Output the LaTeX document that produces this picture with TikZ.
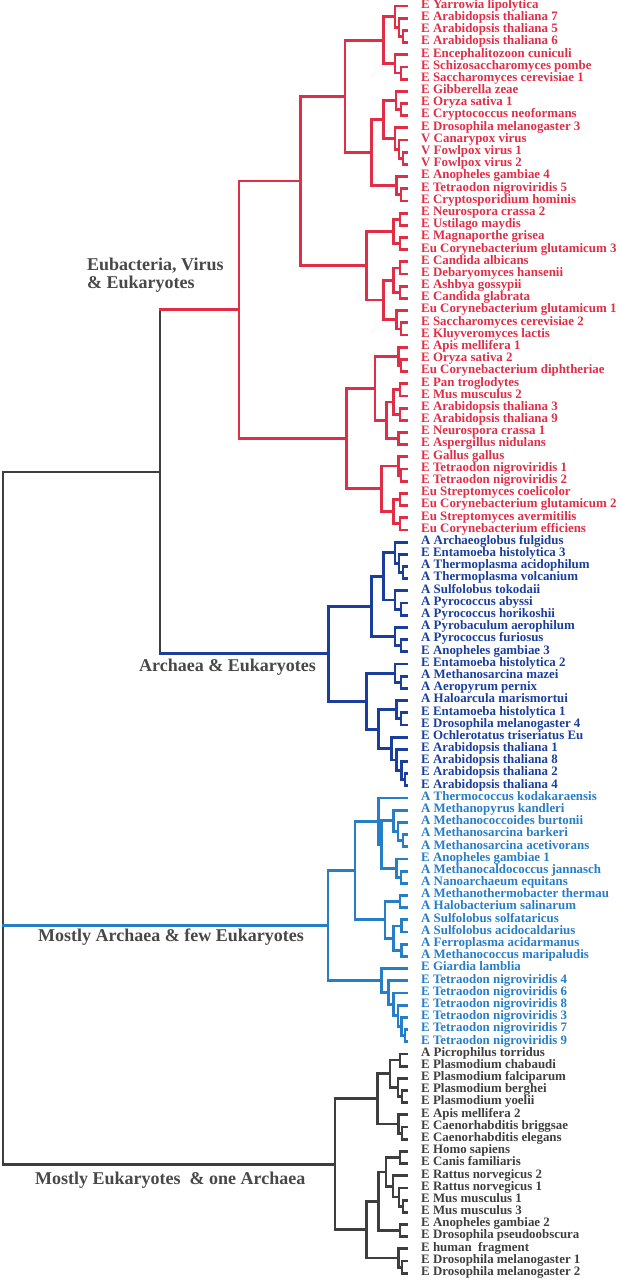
\documentclass[tikz,border=0pt]{standalone}
\usepackage{fontspec}
\setmainfont{Liberation Serif}
\usepackage{tikz}
\usetikzlibrary{calc}
\definecolor{treered}{RGB}{226, 45, 70}
\definecolor{treeblue}{RGB}{25, 62, 158}
\definecolor{treesky}{RGB}{38, 125, 200}
\definecolor{treegrey}{RGB}{62, 62, 62}
\definecolor{labelgrey}{RGB}{72, 72, 72}

% clade{name}{x}{upper child}{lower child}
\newcommand{\clade}[4]{%
  \path (#3) -- (#4) coordinate[midway] (m#1);
  \coordinate (#1) at (#2,0 |- m#1);
  \draw[branch] (#1) |- (#3);
  \draw[branch] (#1) |- (#4);
}

\begin{document}
\begin{tikzpicture}[
    x=1pt, y=-1pt,
    branch/.style={line width=2.8pt, line cap=rect},
    leaf/.style={anchor=mid west, inner sep=0pt, xshift=14pt,
        font=\fontsize{12.9}{13}\selectfont\bfseries},
    group/.style={anchor=west, inner sep=0pt, align=left, text=labelgrey,
        font=\fontsize{18}{18}\selectfont\bfseries}
]
    \useasboundingbox (0,0) rectangle (620,1280);

    % Eubacteria, Virus & Eukaryotes
    \begin{scope}[color=treered]
        \foreach \i/\name in {
            1/E Yarrowia lipolytica, 2/E Arabidopsis thaliana 7,
            3/E Arabidopsis thaliana 5, 4/E Arabidopsis thaliana 6,
            5/E Encephalitozoon cuniculi, 6/E Schizosaccharomyces pombe,
            7/E Saccharomyces cerevisiae 1, 8/E Gibberella zeae,
            9/E Oryza sativa 1, 10/E Cryptococcus neoformans,
            11/E Drosophila melanogaster 3, 12/V Canarypox virus,
            13/V Fowlpox virus 1, 14/V Fowlpox virus 2,
            15/E Anopheles gambiae 4, 16/E Tetraodon nigroviridis 5,
            17/E Cryptosporidium hominis, 18/E Neurospora crassa 2,
            19/E Ustilago maydis, 20/E Magnaporthe grisea,
            21/Eu Corynebacterium glutamicum 3, 22/E Candida albicans,
            23/E Debaryomyces hansenii, 24/E Ashbya gossypii,
            25/E Candida glabrata, 26/Eu Corynebacterium glutamicum 1,
            27/E Saccharomyces cerevisiae 2, 28/E Kluyveromyces lactis,
            29/E Apis mellifera 1, 30/E Oryza sativa 2,
            31/Eu Corynebacterium diphtheriae, 32/E Pan troglodytes,
            33/E Mus musculus 2, 34/E Arabidopsis thaliana 3,
            35/E Arabidopsis thaliana 9, 36/E Neurospora crassa 1,
            37/E Aspergillus nidulans, 38/E Gallus gallus,
            39/E Tetraodon nigroviridis 1, 40/E Tetraodon nigroviridis 2,
            41/Eu Streptomyces coelicolor, 42/Eu Corynebacterium glutamicum 2,
            43/Eu Streptomyces avermitilis, 44/Eu Corynebacterium efficiens}
        {
            \coordinate (t\i) at (407,{6+(\i-1)*12.185});
            \node[leaf] (l\i) at (t\i) {\name};
        }
        \clade{r34}{403}{t3}{t4}
        \clade{r24}{399}{t2}{r34}
        \clade{r14}{395}{t1}{r24}
        \clade{r67}{401}{t6}{t7}
        \clade{r57}{395}{t5}{r67}
        \clade{r17}{383.3}{r14}{r57}
        \clade{r910}{401}{t9}{t10}
        \clade{r810}{396}{t8}{r910}
        \clade{r1314}{403}{t13}{t14}
        \clade{r1214}{399}{t12}{r1314}
        \clade{r1114}{395}{t11}{r1214}
        \clade{r814}{383.3}{r810}{r1114}
        \clade{r1617}{401}{t16}{t17}
        \clade{r1517}{396.7}{t15}{r1617}
        \clade{r817}{371.7}{r814}{r1517}
        \clade{r117}{345}{r17}{r817}
        \clade{r1819}{400}{t18}{t19}
        \clade{r2021}{400}{t20}{t21}
        \clade{r1821}{393.3}{r1819}{r2021}
        \clade{r2223}{400}{t22}{t23}
        \clade{r2425}{400}{t24}{t25}
        \clade{r2225}{393.3}{r2223}{r2425}
        \clade{r2728}{401}{t27}{t28}
        \clade{r2628}{396.7}{t26}{r2728}
        \clade{r2228}{383.3}{r2225}{r2628}
        \clade{r1828}{366.7}{r1821}{r2228}
        \clade{r128}{300.7}{r117}{r1828}
        \clade{r3031}{401}{t30}{t31}
        \clade{r2931}{398.3}{t29}{r3031}
        \clade{r3233}{400}{t32}{t33}
        \clade{r3435}{400}{t34}{t35}
        \clade{r3235}{393.3}{r3233}{r3435}
        \clade{r3637}{398.3}{t36}{t37}
        \clade{r3237}{386.7}{r3235}{r3637}
        \clade{r2937}{375}{r2931}{r3237}
        \clade{r3940}{401}{t39}{t40}
        \clade{r3840}{398.3}{t38}{r3940}
        \clade{r4142}{400}{t41}{t42}
        \clade{r4344}{400}{t43}{t44}
        \clade{r4144}{393.3}{r4142}{r4344}
        \clade{r3844}{381.7}{r3840}{r4144}
        \clade{r2944}{346.7}{r2937}{r3844}
        \clade{eubac}{239}{r128}{r2944}
    \end{scope}

    % Archaea & Eukaryotes
    \begin{scope}[color=treeblue]
        \foreach \i/\name in {
            45/A Archaeoglobus fulgidus, 46/E Entamoeba histolytica 3,
            47/A Thermoplasma acidophilum, 48/A Thermoplasma volcanium,
            49/A Sulfolobus tokodaii, 50/A Pyrococcus abyssi,
            51/A Pyrococcus horikoshii, 52/A Pyrobaculum aerophilum,
            53/A Pyrococcus furiosus, 54/E Anopheles gambiae 3,
            55/E Entamoeba histolytica 2, 56/A Methanosarcina mazei,
            57/A Aeropyrum pernix, 58/A Haloarcula marismortui,
            59/E Entamoeba histolytica 1, 60/E Drosophila melanogaster 4,
            61/E Ochlerotatus triseriatus Eu, 62/E Arabidopsis thaliana 1,
            63/E Arabidopsis thaliana 8, 64/E Arabidopsis thaliana 2,
            65/E Arabidopsis thaliana 4}
        {
            \coordinate (t\i) at (407,{6+(\i-1)*12.185});
            \node[leaf] (l\i) at (t\i) {\name};
        }
        \clade{b4748}{403}{t47}{t48}
        \clade{b4648}{399}{t46}{b4748}
        \clade{b4548}{395}{t45}{b4648}
        \clade{b5051}{401}{t50}{t51}
        \clade{b4951}{395}{t49}{b5051}
        \clade{b4551}{383.3}{b4548}{b4951}
        \clade{b5354}{401}{t53}{t54}
        \clade{b5254}{395}{t52}{b5354}
        \clade{b4554}{371.7}{b4551}{b5254}
        \clade{b5657}{401}{t56}{t57}
        \clade{b5557}{395}{t55}{b5657}
        \clade{b5960}{401}{t59}{t60}
        \clade{b5860}{396.7}{t58}{b5960}
        \clade{b6465}{405}{t64}{t65}
        \clade{b6365}{401.7}{t63}{b6465}
        \clade{b6265}{396.7}{t62}{b6365}
        \clade{b6165}{391.7}{t61}{b6265}
        \clade{b5865}{378.3}{b5860}{b6165}
        \clade{b5565}{366.7}{b5557}{b5865}
        \clade{archeuk}{328.3}{b4554}{b5565}
    \end{scope}

    % Mostly Archaea & few Eukaryotes
    \begin{scope}[color=treesky]
        \foreach \i/\name in {
            66/A Thermococcus kodakaraensis, 67/A Methanopyrus kandleri,
            68/A Methanococcoides burtonii, 69/A Methanosarcina barkeri,
            70/A Methanosarcina acetivorans, 71/E Anopheles gambiae 1,
            72/A Methanocaldococcus jannasch, 73/A Nanoarchaeum equitans,
            74/A Methanothermobacter thermau, 75/A Halobacterium salinarum,
            76/A Sulfolobus solfataricus, 77/A Sulfolobus acidocaldarius,
            78/A Ferroplasma acidarmanus, 79/A Methanococcus maripaludis,
            80/E Giardia lamblia, 81/E Tetraodon nigroviridis 4,
            82/E Tetraodon nigroviridis 6, 83/E Tetraodon nigroviridis 8,
            84/E Tetraodon nigroviridis 3, 85/E Tetraodon nigroviridis 7,
            86/E Tetraodon nigroviridis 9}
        {
            \coordinate (t\i) at (407,{6+(\i-1)*12.185});
            \node[leaf] (l\i) at (t\i) {\name};
        }
        \clade{c6970}{403}{t69}{t70}
        \clade{c6870}{398}{t68}{c6970}
        \clade{c6770}{393.3}{t67}{c6870}
        \clade{c7273}{401}{t72}{t73}
        \clade{c7173}{396.7}{t71}{c7273}
        \clade{c6773}{381.7}{c6770}{c7173}
        \clade{c6673}{378.3}{t66}{c6773}
        \clade{c7475}{400}{t74}{t75}
        \clade{c7677}{401.7}{t76}{t77}
        \clade{c7879}{401.7}{t78}{t79}
        \clade{c7679}{393.3}{c7677}{c7879}
        \clade{c7479}{385}{c7475}{c7679}
        \clade{c6679}{355}{c6673}{c7479}
        \clade{c8586}{405}{t85}{t86}
        \clade{c8486}{401.7}{t84}{c8586}
        \clade{c8386}{398}{t83}{c8486}
        \clade{c8286}{393.3}{t82}{c8386}
        \clade{c8186}{388.3}{t81}{c8286}
        \clade{c8086}{381.7}{t80}{c8186}
        \clade{mostarch}{328}{c6679}{c8086}
    \end{scope}

    % Mostly Eukaryotes & one Archaea
    \begin{scope}[color=treegrey]
        \foreach \i/\name in {
            87/A Picrophilus torridus, 88/E Plasmodium chabaudi,
            89/E Plasmodium falciparum, 90/E Plasmodium berghei,
            91/E Plasmodium yoelii, 92/E Apis mellifera 2,
            93/E Caenorhabditis briggsae, 94/E Caenorhabditis elegans,
            95/E Homo sapiens, 96/E Canis familiaris,
            97/E Rattus norvegicus 2, 98/E Rattus norvegicus 1,
            99/E Mus musculus 1, 100/E Mus musculus 3,
            101/E Anopheles gambiae 2, 102/E Drosophila pseudoobscura,
            103/E human\ \ fragment, 104/E Drosophila melanogaster 1,
            105/E Drosophila melanogaster 2}
        {
            \coordinate (t\i) at (407,{6+(\i-1)*12.185});
            \node[leaf] (l\i) at (t\i) {\name};
        }
        \clade{g8788}{400}{t87}{t88}
        \clade{g9091}{402}{t90}{t91}
        \clade{g8991}{398}{t89}{g9091}
        \clade{g8791}{390}{g8788}{g8991}
        \clade{g9394}{402}{t93}{t94}
        \clade{g9294}{398.3}{t92}{g9394}
        \clade{g8794}{377.3}{g8791}{g9294}
        \clade{g9596}{400}{t95}{t96}
        \clade{g99100}{403}{t99}{t100}
        \clade{g98100}{399}{t98}{g99100}
        \clade{g97100}{393}{t97}{g98100}
        \clade{g95100}{386}{g9596}{g97100}
        \clade{g101102}{400}{t101}{t102}
        \clade{g95102}{378.3}{g95100}{g101102}
        \clade{g104105}{402}{t104}{t105}
        \clade{g103105}{398.3}{t103}{g104105}
        \clade{g95105}{366.7}{g95102}{g103105}
        \clade{mosteuk}{335}{g8794}{g95105}
    \end{scope}

    % backbone
    \coordinate (core) at (160,472);
    \coordinate (root) at (3,818);
    \draw[branch, treegrey] (core |- eubac) -- (core |- archeuk);
    \draw[branch, treered] (core |- eubac) -- (eubac);
    \draw[branch, treeblue] (core |- archeuk) -- (archeuk);
    \draw[branch, treegrey] (root |- core) -- (root |- mosteuk);
    \draw[branch, treegrey] (root |- core) -- (core);
    \draw[branch, treesky] (root |- mostarch) -- (mostarch);
    \draw[branch, treegrey] (root |- mosteuk) -- (mosteuk);

    % group labels
    \node[group] (lab-eubac) at (87,275) {Eubacteria, Virus\\\& Eukaryotes};
    \node[group] (lab-archeuk) at (139,667) {Archaea \& Eukaryotes};
    \node[group] (lab-mostarch) at (38,937) {Mostly Archaea \& few Eukaryotes};
    \node[group] (lab-mosteuk) at (35,1180) {Mostly Eukaryotes\ \ \& one Archaea};
\end{tikzpicture}
\end{document}
